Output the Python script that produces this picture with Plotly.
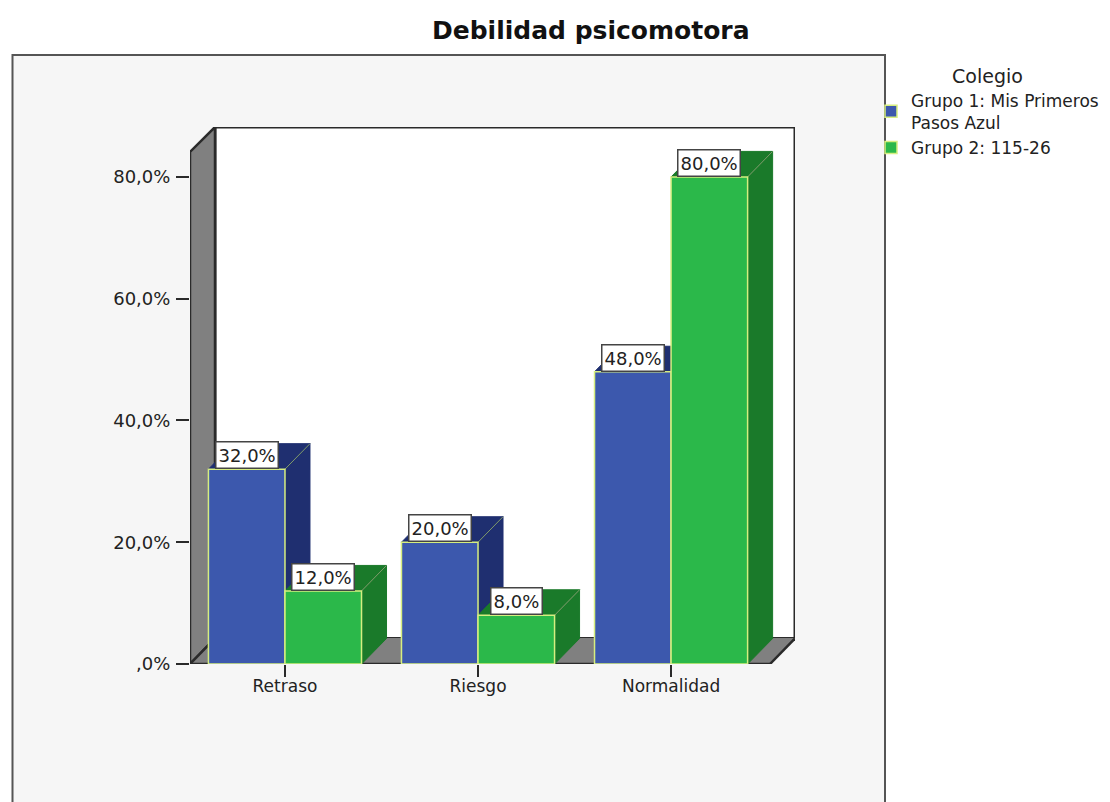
import plotly.graph_objects as go

categories = ["Retraso", "Riesgo", "Normalidad"]
grupo1 = [32.0, 20.0, 48.0]
grupo2 = [12.0, 8.0, 80.0]
series_names = ["Grupo 1: Mis Primeros<br>Pasos Azul", "Grupo 2: 115-26"]
y_ticks = [0, 20, 40, 60, 80]
y_labels = [",0%", "20,0%", "40,0%", "60,0%", "80,0%"]

W, H = 1110, 802
BLUE, BLUE_D = "#3c58ad", "#1f2f70"
GREEN, GREEN_D = "#2bb84a", "#1a7a2a"
EDGE = "#d6ee80"
GREY = "#808080"
DARK = "#2a2a2a"
FONT = "DejaVu Sans"

XMIN, XMAX = -0.492, 2.642
YMAX_F, YMAX = 84.1, 88.2
DX, DY = 0.1295, 4.19
BW = 0.3965
XF = XMAX - DX

fig = go.Figure()


def poly(xs, ys, fill, line=None, lw=1):
    fig.add_trace(go.Scatter(
        x=xs, y=ys, mode="lines", fill="toself" if fill else None, fillcolor=fill,
        line=dict(color=line or fill or DARK, width=lw), cliponaxis=False,
        hoverinfo="skip", showlegend=False, xaxis="x", yaxis="y"))


# frame: back wall, left wall, floor
poly([XMIN + DX, XMAX, XMAX, XMIN + DX, XMIN + DX], [DY, DY, YMAX, YMAX, DY], "#ffffff", DARK, 3)
poly([XMIN, XMIN + DX, XMIN + DX, XMIN, XMIN], [0, DY, YMAX, YMAX_F, 0], GREY, DARK, 2.5)
poly([XMIN, XMIN + DX, XMAX, XF, XMIN], [0, DY, DY, 0, 0], GREY, None, 1)
poly([XMIN, XMIN + DX], [0, DY], None, DARK, 2.5)
poly([XF, XMAX], [0, DY], None, DARK, 2.5)
poly([XMIN, XF], [0, 0], None, DARK, 2.5)

# 3-D faces of the bars, derived from the values
for vals, off, dark in [(grupo1, -BW, BLUE_D), (grupo2, 0, GREEN_D)]:
    for i, v in enumerate(vals):
        l, r = i + off, i + off + BW
        poly([r, r + DX, r + DX, r, r], [0, DY, v + DY, v, 0], dark)
        poly([l, l + DX, r + DX, r, l], [v, v + DY, v + DY, v, v], dark)
        poly([r, r + DX], [v, v + DY], None, "#7f9a6a", 1)

# bars in an overlaid subplot, so they sit above the faces
for vals, name, col, off in [(grupo1, series_names[0], BLUE, -BW), (grupo2, series_names[1], GREEN, 0)]:
    fig.add_trace(go.Bar(
        x=list(range(len(categories))), y=vals, name=name, width=BW, offset=off,
        marker=dict(color=col, line=dict(color=EDGE, width=1.5)),
        xaxis="x2", yaxis="y2", hoverinfo="skip"))

# value labels
for vals, off in [(grupo1, -BW / 2), (grupo2, BW / 2)]:
    for i, v in enumerate(vals):
        fig.add_annotation(
            x=i + off, y=v, xref="x2", yref="y2", yanchor="bottom", xanchor="center",
            yshift=0, showarrow=False,
            text=f"{v:.1f}%".replace(".", ","),
            font=dict(family=FONT, size=18, color="#222222"),
            bgcolor="#ffffff", bordercolor="#444444", borderwidth=1.5, borderpad=2)

# background panel and title
fig.add_shape(type="rect", xref="paper", yref="paper", layer="below",
              x0=12.5 / W, x1=885 / W, y0=-0.02, y1=1 - 55 / H,
              fillcolor="#f6f6f6", line=dict(color="#555555", width=2))
fig.add_annotation(x=591 / W, y=1 - 30 / H, xref="paper", yref="paper", showarrow=False,
                   xanchor="center", yanchor="middle",
                   text="<b>Debilidad psicomotora</b>",
                   font=dict(family=FONT, size=25, color="#111111"))

xdom = [190 / W, 795 / W]
ydom = [1 - 664 / H, 1 - 127 / H]
fig.update_layout(
    width=W, height=H, autosize=False, margin=dict(l=0, r=0, t=0, b=0, autoexpand=False),
    paper_bgcolor="#ffffff", plot_bgcolor="rgba(0,0,0,0)",
    font=dict(family=FONT, color="#222222"),
    barmode="overlay",
    xaxis=dict(domain=xdom, range=[XMIN, XMAX], tickmode="array", tickvals=list(range(len(categories))),
               ticktext=categories, ticks="outside", ticklen=12, tickcolor=DARK, tickwidth=1.5,
               ticklabelstandoff=-5,
               showgrid=False, zeroline=False, showline=False, tickfont=dict(size=17)),
    yaxis=dict(domain=ydom, range=[0, YMAX], tickmode="array", tickvals=y_ticks, ticktext=y_labels,
               ticks="outside", ticklen=13, tickcolor=DARK, tickwidth=1.5, ticklabelstandoff=2,
               showgrid=False, zeroline=False, showline=False, tickfont=dict(size=18)),
    xaxis2=dict(domain=xdom, range=[XMIN, XMAX], overlaying="x", visible=False),
    yaxis2=dict(domain=ydom, range=[0, YMAX], overlaying="y", visible=False),
    legend=dict(x=871 / W, y=1 - 58 / H, xanchor="left", yanchor="top", bgcolor="rgba(0,0,0,0)",
                font=dict(size=17), title=dict(text="Colegio", side="top center", font=dict(size=19)),
                itemwidth=30, tracegroupgap=0),
)

fig.write_html("out.html", post_script="document.body.style.margin='0';",
               config=dict(displayModeBar=False))
